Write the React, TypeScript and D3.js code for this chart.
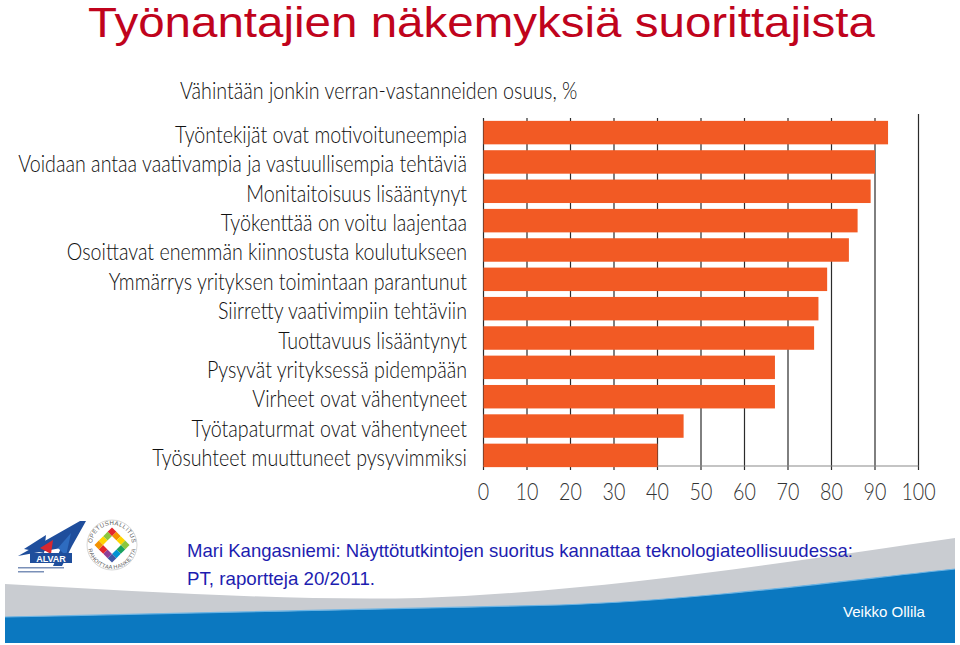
import * as d3 from "d3";
import React from "react";

// survey answers, share of "at least somewhat agree" (%)
const categories = [
  "Työntekijät ovat motivoituneempia",
  "Voidaan antaa vaativampia ja vastuullisempia tehtäviä",
  "Monitaitoisuus lisääntynyt",
  "Työkenttää on voitu laajentaa",
  "Osoittavat enemmän kiinnostusta koulutukseen",
  "Ymmärrys yrityksen toimintaan parantunut",
  "Siirretty vaativimpiin tehtäviin",
  "Tuottavuus lisääntynyt",
  "Pysyvät yrityksessä pidempään",
  "Virheet ovat vähentyneet",
  "Työtapaturmat ovat vähentyneet",
  "Työsuhteet muuttuneet pysyvimmiksi",
];
const values = [93, 90, 89, 86, 84, 79, 77, 76, 67, 67, 46, 40];
const xTicks = [0, 10, 20, 30, 40, 50, 60, 70, 80, 90, 100];

const title = "Työnantajien näkemyksiä suorittajista";
const subtitle = "Vähintään jonkin verran-vastanneiden osuus, %";
const sourceLines = [
  "Mari Kangasniemi: Näyttötutkintojen suoritus kannattaa teknologiateollisuudessa:",
  "PT, raportteja 20/2011.",
];
const author = "Veikko Ollila";

const W = 960;
const H = 645;
const scanFont = "Lato, 'Open Sans', sans-serif";
const squeeze = 0.82;

const x = d3.scaleLinear().domain([0, 100]).range([483.5, 918.5]);
const y = d3
  .scaleBand<string>()
  .domain(categories)
  .range([115, 473])
  .paddingInner(0.2)
  .paddingOuter(0.2);

const gridTop = 118;
const axisY = 466;

// colour ring of the Opetushallitus diamond
const diamondColors = ["#e3262d", "#f39200", "#ffd500", "#8cc63e", "#1aa260", "#0093d4", "#3f57a6", "#8e3f97"];

function Logos() {
  const cx = 112;
  const cy = 545;
  const r = 25;
  const cell = 6.2;
  const ring: [number, number][] = [
    [0, 0], [1, 0], [2, 0], [3, 0], [3, 1], [3, 2], [3, 3], [2, 3], [1, 3], [0, 3], [0, 2], [0, 1],
  ];
  return (
    <g>
      {/* ALVAR logo */}
      <g>
        <path d="M18,556 L50,538 L80,521 L86,521 L72,546 L62,566 L53,566 L61,548 Z" fill="#1f4e9c" />
        <path d="M24,549 L46,535 L44,553 Z" fill="#1f4e9c" />
        <path d="M40,548 L53,540 L51,554 Z" fill="#d7282f" />
        <path d="M58,548 L71,533 L66,556 Z" fill="#2e6cc0" />
        <rect x={30} y={553} width={42} height={10} fill="#1f4e9c" />
        <text x={51} y={561.5} fontFamily="Arial, sans-serif" fontSize={9} fontWeight="bold" fill="#fff" textAnchor="middle">ALVAR</text>
        <rect x={18} y={567} width={46} height={1.5} fill="#7a90b8" />
        <rect x={18} y={571} width={26} height={1.5} fill="#7a90b8" />
      </g>
      {/* Opetushallitus ring */}
      <g>
        <defs>
          <path id="arcTop" d={`M${cx - r + 5},${cy} A${r - 5},${r - 5} 0 0 1 ${cx + r - 5},${cy}`} />
          <path id="arcBottom" d={`M${cx - r + 1},${cy} A${r - 1},${r - 1} 0 0 0 ${cx + r - 1},${cy}`} />
        </defs>
        <circle cx={cx} cy={cy} r={r} fill="#fff" stroke="#d8d8d8" strokeWidth={1} />
        <text fontFamily="Arial, sans-serif" fontSize={6} fill="#555" letterSpacing={0.4}>
          <textPath href="#arcTop" startOffset="50%" textAnchor="middle">OPETUSHALLITUS</textPath>
        </text>
        <text fontFamily="Arial, sans-serif" fontSize={5.5} fill="#555" letterSpacing={0.3}>
          <textPath href="#arcBottom" startOffset="50%" textAnchor="middle">RAHOITTAA HANKETTA</textPath>
        </text>
        <g transform={`translate(${cx},${cy}) rotate(45) translate(${-2 * cell},${-2 * cell})`}>
          {ring.map(([i, j], k) => (
            <rect key={k} x={i * cell} y={j * cell} width={cell} height={cell} fill={diamondColors[k % diamondColors.length]} />
          ))}
          <rect x={cell} y={cell} width={cell * 2} height={cell * 2} fill="#fff" />
        </g>
      </g>
    </g>
  );
}

export default function App() {
  return (
    <svg
      width={W}
      height={H}
      viewBox={`0 0 ${W} ${H}`}
      style={{ position: "absolute", left: 0, top: 0, background: "#fff" }}
    >
      <rect width={W} height={H} fill="#fff" />

      {/* title */}
      <text
        x={88}
        y={37}
        fontFamily="'Liberation Sans', Arial, sans-serif"
        fontSize={42}
        fill="#c0031c"
        textLength={787}
        lengthAdjust="spacingAndGlyphs"
      >
        {title}
      </text>

      {/* scanned chart */}
      <g fontFamily={scanFont} fontWeight={300} fill="#111">
        <text transform={`translate(180,99) scale(${squeeze},1)`} fontSize={24}>
          {subtitle}
        </text>

        {/* gridlines */}
        {xTicks.map((t) => (
          <line
            key={`g${t}`}
            x1={x(t)}
            x2={x(t)}
            y1={t === 100 ? gridTop - 4 : gridTop}
            y2={axisY + 4}
            stroke="#2b2b2b"
            strokeWidth={1.2}
          />
        ))}
        <line x1={x(0)} x2={x(100)} y1={axisY} y2={axisY} stroke="#8a8a8a" strokeWidth={1.2} />

        {/* bars */}
        {categories.map((c, i) => (
          <rect
            key={c}
            x={x(0)}
            y={y(c)}
            width={x(values[i]) - x(0)}
            height={y.bandwidth()}
            fill="#f25a24"
          />
        ))}

        {/* category labels */}
        {categories.map((c) => (
          <text
            key={`l${c}`}
            transform={`translate(467,${(y(c) ?? 0) + y.bandwidth() / 2 + 10.5}) scale(${squeeze},1)`}
            textAnchor="end"
            fontSize={24}
          >
            {c}
          </text>
        ))}

        {/* x tick labels */}
        {xTicks.map((t) => (
          <text
            key={`t${t}`}
            transform={`translate(${x(t)},500) scale(${squeeze},1)`}
            textAnchor="middle"
            fontSize={24}
            fill="#333"
          >
            {t}
          </text>
        ))}
      </g>

      {/* footer swoosh */}
      <path d="M5,584 C150,592 300,601 420,598 C600,592 800,560 955,538 L955,643 L5,643 Z" fill="#c9ccd1" />
      <path d="M5,617 C200,613 400,609 560,605 C700,600 850,580 955,569 L955,643 L5,643 Z" fill="#0b78c0" />
      <path d="M5,617 C200,613 400,609 560,605 C700,600 850,580 955,569" fill="none" stroke="#6cb4e4" strokeWidth={1.2} />

      <Logos />

      {/* source text */}
      <g fontFamily="'Liberation Sans', Arial, sans-serif" fontSize={18.5} fill="#1d1db0">
        <text x={187} y={557} textLength={666} lengthAdjust="spacingAndGlyphs">
          {sourceLines[0]}
        </text>
        <text x={187} y={585} textLength={188} lengthAdjust="spacingAndGlyphs">
          {sourceLines[1]}
        </text>
      </g>
      <text x={843} y={617} fontFamily="'Liberation Sans', Arial, sans-serif" fontSize={14.5} fill="#fff" textLength={82} lengthAdjust="spacingAndGlyphs">
        {author}
      </text>
    </svg>
  );
}
